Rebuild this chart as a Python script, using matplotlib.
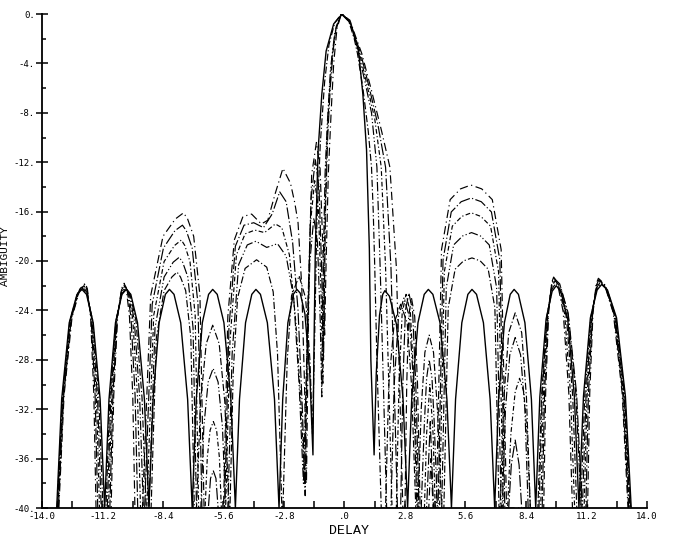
import matplotlib
matplotlib.use("Agg")
import matplotlib.pyplot as plt
from matplotlib.ticker import MultipleLocator, FuncFormatter

# ambiguity cuts: (delay, dB) vertices, one list per curve
# solid curve = zero doppler, d1..d5 = increasing doppler (dash-dot)
curve_solid = [
    (-13.32, -40), (-13.09, -31.2), (-12.74, -25.0), (-12.38, -22.7), (-12.15, -22.3),
    (-11.94, -22.7), (-11.63, -25.0), (-11.31, -31.2), (-11.1, -40),
    (-10.9, -31.2), (-10.6, -25.0), (-10.3, -22.7), (-10.1, -22.3),
    (-9.89, -22.7), (-9.58, -25.0), (-9.26, -31.2), (-9.05, -40),
    (-8.86, -31.2), (-8.58, -25.0), (-8.29, -22.7), (-8.1, -22.3),
    (-7.89, -22.7), (-7.58, -25.0), (-7.26, -31.2), (-7.05, -40),
    (-6.86, -31.2), (-6.58, -25.0), (-6.29, -22.7), (-6.1, -22.3),
    (-5.89, -22.7), (-5.58, -25.0), (-5.26, -31.2), (-5.05, -40),
    (-4.86, -31.2), (-4.58, -25.0), (-4.29, -22.7), (-4.1, -22.3),
    (-3.89, -22.7), (-3.57, -25.0), (-3.24, -31.2), (-3.03, -40),
    (-2.86, -31.2), (-2.62, -25.0), (-2.37, -22.7), (-2.2, -22.3),
    (-2.05, -22.6), (-1.83, -24.3), (-1.61, -29.0), (-1.46, -35.7),
    (-1.42, -28), (-1.35, -19), (-1.22, -11), (-1.05, -6.5), (-0.85, -3), (-0.5, -0.8), (-0.1, 0),
    (0.3, -0.8), (0.65, -3), (0.85, -6.5), (1.02, -11), (1.15, -19), (1.22, -28), (1.37, -35.7),
    (1.47, -29.1), (1.62, -24.4), (1.77, -22.7), (1.87, -22.4),
    (2.08, -22.85), (2.4, -25.1), (2.71, -31.2), (2.92, -40),
    (3.11, -31.2), (3.4, -25.0), (3.69, -22.7), (3.88, -22.3),
    (4.09, -22.7), (4.42, -25.0), (4.74, -31.2), (4.95, -40),
    (5.14, -31.2), (5.43, -25.0), (5.71, -22.7), (5.9, -22.3),
    (6.11, -22.7), (6.43, -25.0), (6.74, -31.2), (6.95, -40),
    (7.13, -31.2), (7.4, -25.0), (7.67, -22.7), (7.85, -22.3),
    (8.05, -22.7), (8.35, -25.0), (8.65, -31.2), (8.85, -40),
    (9.04, -31.0), (9.33, -24.7), (9.61, -22.45), (9.8, -22.0),
    (10.01, -22.45), (10.33, -24.7), (10.64, -31.0), (10.85, -40),
    (11.06, -30.95), (11.38, -24.6), (11.69, -22.35), (11.9, -21.9),
    (12.17, -22.35), (12.59, -24.6), (13.0, -30.95), (13.27, -40),
]

curve_d1 = [
    (-13.30, -40), (-13.06, -31.1), (-12.71, -24.85), (-12.36, -22.65), (-12.12, -22.2),
    (-11.93, -22.65), (-11.65, -24.85), (-11.37, -31.1), (-11.18, -40),
    (-11.04, -40), (-10.86, -31.1), (-10.58, -24.85), (-10.3, -22.65), (-10.12, -22.2),
    (-9.93, -22.65), (-9.65, -24.85), (-9.37, -31.1), (-9.18, -40),
    (-8.95, -40), (-8.71, -26.25), (-8.35, -22.4), (-7.99, -21.3), (-7.75, -20.9),
    (-7.59, -21.3), (-7.35, -22.4), (-7.11, -26.25), (-6.95, -40),
    (-6.85, -40), (-6.66, -31.4), (-6.4, -26.7), (-6.1, -25.2), (-5.8, -26.7), (-5.54, -31.4), (-5.35, -40),
    (-5.3, -40), (-5.15, -29), (-4.95, -23), (-4.6, -20.6), (-4.07, -19.9),
    (-3.6, -20.5), (-3.3, -22.5), (-3.1, -27.5), (-2.9, -40),
    (-2.85, -40), (-2.65, -28), (-2.45, -22.8), (-2.1, -21.2), (-1.8, -23), (-1.6, -28), (-1.48, -34),
    (-1.38, -26), (-1.28, -17), (-1.12, -10.5), (-0.92, -5.5), (-0.72, -2.5), (-0.45, -0.7), (-0.15, 0),
    (0.2, -0.6), (0.45, -2.0), (0.6, -3.2), (0.85, -6), (1.1, -9.5), (1.25, -12.4), (1.33, -16),
    (1.4, -20.5), (1.5, -28), (1.6, -34), (1.7, -40),
    (1.9, -40), (2.05, -30), (2.3, -25), (2.6, -23.5), (2.9, -25), (3.1, -30), (3.3, -40),
    (3.4, -40), (3.55, -32), (3.72, -27.4), (3.92, -26), (4.12, -27.4), (4.3, -32), (4.5, -40),
    (4.6, -40), (4.8, -23.8), (5.12, -20.66), (5.51, -19.99), (5.9, -19.75),
    (6.28, -19.99), (6.65, -20.66), (6.96, -23.8), (7.15, -40),
    (7.2, -40), (7.38, -31), (7.6, -25.8), (7.9, -24.2), (8.2, -25.8), (8.42, -31), (8.6, -40),
    (8.95, -40), (9.12, -30.9), (9.37, -24.55), (9.61, -22.25), (9.78, -21.8),
    (9.97, -22.25), (10.27, -24.55), (10.56, -30.9), (10.75, -40),
    (10.93, -40), (11.12, -30.9), (11.4, -24.55), (11.68, -22.25), (11.87, -21.8),
    (12.14, -22.25), (12.56, -24.55), (12.97, -30.9), (13.24, -40),
]

curve_d2 = [
    (-13.28, -40), (-13.04, -31.05), (-12.69, -24.8), (-12.33, -22.55), (-12.09, -22.1),
    (-11.92, -22.55), (-11.68, -24.8), (-11.43, -31.05), (-11.26, -40),
    (-10.98, -40), (-10.81, -31.05), (-10.56, -24.8), (-10.31, -22.55), (-10.14, -22.1),
    (-9.97, -22.55), (-9.73, -24.8), (-9.48, -31.05), (-9.31, -40),
    (-9.05, -40), (-8.77, -25.4), (-8.35, -21.3), (-7.93, -20.1), (-7.65, -19.7),
    (-7.49, -20.1), (-7.25, -21.3), (-7.01, -25.4), (-6.85, -40),
    (-6.65, -40), (-6.51, -33.4), (-6.31, -29.8), (-6.08, -28.7), (-5.85, -29.8), (-5.65, -33.4), (-5.5, -40),
    (-5.4, -40), (-5.2, -27.5), (-4.9, -20.3), (-4.5, -18.7), (-4.1, -18.4), (-3.6, -18.9), (-3.1, -18.6),
    (-2.7, -19.6), (-2.35, -23), (-2.1, -30), (-1.9, -38),
    (-1.75, -28), (-1.6, -20), (-1.42, -16.5), (-1.25, -18.5), (-1.12, -25), (-1.05, -31),
    (-0.98, -20), (-0.9, -13), (-0.8, -9), (-0.65, -4.5), (-0.45, -1.5), (-0.15, 0),
    (0.2, -0.5), (0.48, -2.0), (0.65, -3.2), (0.95, -5.5), (1.25, -8), (1.5, -12.4), (1.65, -20.5),
    (1.8, -30), (1.95, -40),
    (2.15, -40), (2.3, -30), (2.5, -24.5), (2.75, -23), (3.0, -24.5), (3.2, -30), (3.35, -40),
    (3.55, -40), (3.7, -33), (3.8, -29.5), (3.92, -28), (4.05, -29.5), (4.15, -33), (4.3, -40),
    (4.5, -40), (4.71, -22.16), (5.05, -18.7), (5.47, -17.97), (5.88, -17.7),
    (6.29, -17.97), (6.7, -18.7), (7.04, -22.16), (7.25, -40),
    (7.3, -40), (7.45, -32), (7.65, -27.6), (7.9, -26.2), (8.15, -27.6), (8.35, -32), (8.5, -40),
    (9.0, -40), (9.15, -30.8), (9.38, -24.35), (9.6, -22.05), (9.75, -21.6),
    (9.99, -22.05), (10.35, -24.35), (10.71, -30.8), (10.95, -40),
    (11.01, -40), (11.18, -30.85), (11.43, -24.45), (11.67, -22.15), (11.84, -21.7),
    (12.11, -22.15), (12.53, -24.45), (12.94, -30.85), (13.21, -40),
]

curve_d3 = [
    (-13.26, -40), (-13.02, -31.0), (-12.66, -24.7), (-12.3, -22.45), (-12.06, -22.0),
    (-11.92, -22.45), (-11.7, -24.7), (-11.48, -31.0), (-11.34, -40),
    (-10.92, -40), (-10.77, -31.0), (-10.54, -24.7), (-10.31, -22.45), (-10.16, -22.0),
    (-10.02, -22.45), (-9.8, -24.7), (-9.58, -31.0), (-9.44, -40),
    (-9.15, -40), (-8.83, -24.4), (-8.35, -20.05), (-7.87, -18.75), (-7.55, -18.3),
    (-7.39, -18.75), (-7.15, -20.05), (-6.91, -24.4), (-6.75, -40),
    (-6.45, -40), (-6.35, -35.9), (-6.22, -33.7), (-6.07, -33), (-5.92, -33.7), (-5.79, -35.9), (-5.7, -40),
    (-5.5, -40), (-5.3, -26.5), (-5.0, -19.5), (-4.6, -17.8), (-4.15, -17.5), (-3.7, -17.7), (-3.2, -17.0),
    (-2.9, -17.3), (-2.55, -19.5), (-2.25, -25), (-2.0, -32), (-1.85, -38),
    (-1.72, -26), (-1.58, -17), (-1.38, -13.5), (-1.2, -16), (-1.08, -23), (-1.0, -30),
    (-0.92, -18), (-0.83, -11), (-0.72, -7), (-0.58, -3.5), (-0.4, -1.2), (-0.15, 0),
    (0.2, -0.5), (0.5, -2.0), (0.7, -3.2), (1.05, -5.8), (1.4, -8.5), (1.7, -12.4), (1.9, -20.5),
    (2.05, -30), (2.2, -40),
    (2.4, -40), (2.52, -30), (2.67, -24.2), (2.85, -22.7), (3.05, -24.2), (3.22, -30), (3.4, -40),
    (3.7, -40), (3.8, -34), (3.95, -30), (4.1, -34), (4.2, -40),
    (4.4, -40), (4.62, -20.88), (4.99, -17.18), (5.43, -16.39), (5.87, -16.1),
    (6.31, -16.39), (6.76, -17.18), (7.13, -20.88), (7.35, -40),
    (7.55, -40), (7.7, -34), (7.9, -30.6), (8.1, -29.5), (8.3, -30.6), (8.45, -34), (8.6, -40),
    (9.08, -40), (9.21, -30.75), (9.4, -24.3), (9.59, -21.95), (9.72, -21.5),
    (9.91, -21.95), (10.19, -24.3), (10.46, -30.75), (10.65, -40),
    (11.09, -40), (11.23, -30.8), (11.45, -24.35), (11.67, -22.05), (11.81, -21.6),
    (12.08, -22.05), (12.5, -24.35), (12.91, -30.8), (13.18, -40),
]

curve_d4 = [
    (-13.24, -40), (-13.0, -30.95), (-12.64, -24.6), (-12.27, -22.35), (-12.03, -21.9),
    (-11.91, -22.35), (-11.73, -24.6), (-11.54, -30.95), (-11.42, -40),
    (-10.86, -40), (-10.72, -30.95), (-10.52, -24.6), (-10.32, -22.35), (-10.18, -21.9),
    (-10.06, -22.35), (-9.88, -24.6), (-9.69, -30.95), (-9.57, -40),
    (-9.25, -40), (-8.9, -23.5), (-8.38, -18.95), (-7.85, -17.55), (-7.5, -17.1),
    (-7.32, -17.55), (-7.05, -18.95), (-6.78, -23.5), (-6.6, -40),
    (-6.3, -40), (-6.2, -37.6), (-6.07, -37), (-5.95, -37.6), (-5.85, -40),
    (-5.55, -40), (-5.35, -25.5), (-5.05, -18.8), (-4.65, -17.1), (-4.2, -16.9), (-3.75, -17.3), (-3.35, -16.2),
    (-3.0, -14.4), (-2.7, -15.2), (-2.4, -18.5), (-2.15, -24), (-1.95, -32), (-1.82, -39),
    (-1.7, -24), (-1.55, -15), (-1.35, -11.8), (-1.18, -14), (-1.05, -21), (-0.97, -28),
    (-0.88, -16), (-0.78, -10), (-0.66, -6), (-0.53, -3), (-0.38, -1.0), (-0.15, 0),
    (0.22, -0.5), (0.52, -2.0), (0.75, -3.2), (1.15, -6), (1.55, -9), (1.9, -12.4), (2.15, -20.5),
    (2.3, -30), (2.45, -40),
    (2.6, -40), (2.7, -30), (2.82, -24), (2.98, -22.6), (3.15, -24), (3.3, -30), (3.45, -40),
    (3.8, -40), (3.97, -33), (4.12, -40),
    (4.33, -40), (4.56, -19.92), (4.94, -16.03), (5.4, -15.2), (5.86, -14.9),
    (6.33, -15.2), (6.8, -16.03), (7.19, -19.92), (7.42, -40),
    (7.6, -40), (7.72, -36.5), (7.9, -34.5), (8.08, -36.5), (8.2, -40),
    (9.15, -40), (9.26, -30.7), (9.43, -24.2), (9.59, -21.85), (9.7, -21.4),
    (9.96, -21.85), (10.35, -24.2), (10.74, -30.7), (11.0, -40),
    (11.17, -40), (11.29, -30.75), (11.48, -24.3), (11.66, -21.95), (11.78, -21.5),
    (12.05, -21.95), (12.47, -24.3), (12.88, -30.75), (13.15, -40),
]

curve_d5 = [
    (-13.22, -40), (-12.98, -30.9), (-12.61, -24.55), (-12.24, -22.25), (-12.0, -21.8),
    (-11.9, -22.25), (-11.75, -24.55), (-11.6, -30.9), (-11.5, -40),
    (-10.8, -40), (-10.68, -30.9), (-10.5, -24.55), (-10.32, -22.25), (-10.2, -21.8),
    (-10.1, -22.25), (-9.95, -24.55), (-9.8, -30.9), (-9.7, -40),
    (-9.35, -40), (-8.97, -22.8), (-8.4, -18.0), (-7.83, -16.6), (-7.45, -16.1),
    (-7.26, -16.6), (-6.98, -18.0), (-6.69, -22.8), (-6.5, -40),
    (-5.6, -40), (-5.4, -24.5), (-5.1, -18.3), (-4.7, -16.4), (-4.3, -16.2), (-3.85, -17.0), (-3.55, -16.7),
    (-3.2, -14.5), (-2.85, -12.5), (-2.5, -13.7), (-2.3, -15.3), (-2.15, -16.9), (-1.98, -22), (-1.85, -30), (-1.76, -38),
    (-1.65, -22), (-1.52, -13), (-1.3, -10.4), (-1.13, -12.5), (-1.0, -19), (-0.92, -26),
    (-0.85, -20), (-0.75, -13), (-0.62, -8), (-0.5, -4), (-0.35, -1.2), (-0.15, 0),
    (0.25, -0.5), (0.55, -2.0), (0.8, -3.2), (1.25, -6.2), (1.72, -9.5), (2.1, -12.4), (2.4, -20.5),
    (2.55, -30), (2.7, -40),
    (2.8, -40), (2.88, -30), (2.97, -24.5), (3.1, -23), (3.25, -24.5), (3.38, -30), (3.5, -40),
    (3.9, -40), (4.0, -36), (4.1, -40),
    (4.25, -40), (4.49, -19.08), (4.89, -15.03), (5.37, -14.16), (5.85, -13.85),
    (6.35, -14.16), (6.84, -15.03), (7.25, -19.08), (7.5, -40),
    (9.22, -40), (9.31, -30.65), (9.45, -24.1), (9.59, -21.75), (9.68, -21.3),
    (9.85, -21.75), (10.12, -24.1), (10.38, -30.65), (10.55, -40),
    (11.25, -40), (11.35, -30.7), (11.5, -24.2), (11.65, -21.85), (11.75, -21.4),
    (12.02, -21.85), (12.44, -24.2), (12.85, -30.7), (13.12, -40),
]

curves = [curve_solid, curve_d1, curve_d2, curve_d3, curve_d4, curve_d5]
styles = ['-',
          (0, (6, 2, 1, 2)),
          (0, (8, 2, 1, 2, 1, 2)),
          (0, (4, 2, 1, 2)),
          (0, (10, 2, 1, 2)),
          (0, (7, 3, 1, 3))]

fig = plt.figure(figsize=(6.73, 5.37), dpi=100)
ax = fig.add_axes([42 / 673, 1 - 508 / 537, 605 / 673, 494 / 537])

for pts, ls in zip(curves, styles):
    x, y = zip(*pts)
    ax.plot(x, y, color='black', lw=1.0 if ls == '-' else 0.85, linestyle=ls)

ax.set_xlim(-14, 14)
ax.set_ylim(-40, 0)

for side in ['top', 'right']:
    ax.spines[side].set_visible(False)
for side in ['left', 'bottom']:
    ax.spines[side].set_linewidth(1.3)

ax.xaxis.set_major_locator(MultipleLocator(2.8))
ax.xaxis.set_minor_locator(MultipleLocator(1.4))
ax.yaxis.set_major_locator(MultipleLocator(4))
ax.yaxis.set_minor_locator(MultipleLocator(2))


def xfmt(v, pos):
    v = round(v, 1)
    if abs(v) < 1e-6:
        return '.0'
    return f'{v:.1f}'


def yfmt(v, pos):
    return f'{int(round(v))}.'


ax.xaxis.set_major_formatter(FuncFormatter(xfmt))
ax.yaxis.set_major_formatter(FuncFormatter(yfmt))

ax.tick_params(axis='y', which='major', direction='inout', length=8, width=1.1, pad=1)
ax.tick_params(axis='y', which='minor', direction='in', length=3, width=1.1)
ax.tick_params(axis='x', which='major', direction='in', length=5, width=1.1, pad=3)
ax.tick_params(axis='x', which='minor', direction='in', length=5, width=1.1)
for lab in ax.get_xticklabels() + ax.get_yticklabels():
    lab.set_family('DejaVu Sans Mono')
    lab.set_fontsize(6.5)

fig.text(0.0, 1 - 256 / 537, 'AMBIGUITY', rotation=90, ha='left', va='center',
         family='Liberation Mono', fontsize=8)
fig.text(349 / 673, 1 - 531 / 537, 'DELAY', ha='center', va='center',
         family='Liberation Mono', fontsize=9.5)

fig.savefig('out.png', dpi=100)
